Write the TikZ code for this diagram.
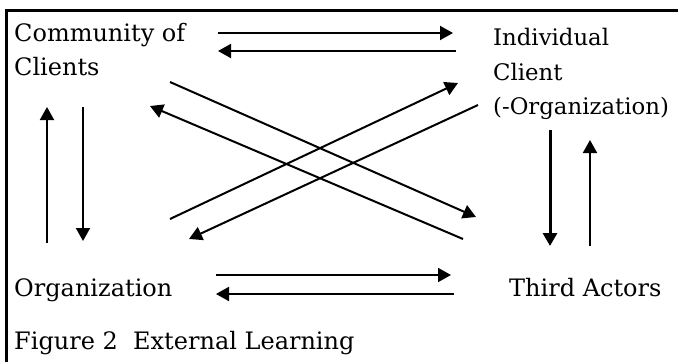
\documentclass[tikz,border=0pt]{standalone}
\usepackage{fontspec}
\setmainfont{DejaVu Serif}
\usetikzlibrary{arrows.meta,calc}

\tikzset{
  label/.style={inner sep=0pt, anchor=base west, align=left, font={\fontsize{24}{34.5}\selectfont}},
  flow/.style={-{Triangle[length=13pt,width=14pt]}, line width=2pt},
}

\begin{document}
\begin{tikzpicture}[x=1pt, y=-1pt]
\useasboundingbox (0,0) rectangle (678,362);
% frame (only top and left edge visible)
\draw[line width=3pt] (6.5,362) -- (6.5,10.5) -- (678,10.5);

% base anchor = baseline of the last line
\node[label] (comm) at (14,75.5) {Community of\\Clients};
\node[label, font={\fontsize{22.8}{34.5}\selectfont}] (indiv) at (493,114.5) {Individual\\Client\\(-Organization)};
\node[label] (org) at (14,296) {Organization};
\node[label] (third) at (509,296) {Third Actors};
\node[label] (caption) at (14,349) {Figure 2\ \ External Learning};

% horizontal pairs
\draw[flow] ($(comm.base west)+(204,-42.5)$) -- ($(indiv.base west)+(-40,-81.5)$);
\draw[flow] ($(indiv.base west)+(-37,-63.5)$) -- ($(comm.base west)+(204,-24.5)$);
\draw[flow] ($(org.base west)+(202,-21)$) -- ($(third.base west)+(-58,-21)$);
\draw[flow] ($(third.base west)+(-55,-2)$) -- ($(org.base west)+(202,-2)$);

% vertical pairs
\draw[flow] ($(org.base west)+(33,-53)$) -- ($(comm.base west)+(33,31.5)$);
\draw[flow] ($(comm.base west)+(69,31.5)$) -- ($(org.base west)+(69,-55)$);
\draw[flow, line width=3pt] ($(indiv.base west)+(57,15.5)$) -- ($(third.base west)+(41,-50)$);
\draw[flow] ($(third.base west)+(81,-50)$) -- ($(indiv.base west)+(97,25.5)$);

% crossing diagonals
\draw[flow] ($(comm.base west)+(156,6.5)$) -- ($(third.base west)+(-33,-79)$);
\draw[flow] ($(third.base west)+(-46,-57)$) -- ($(comm.base west)+(136,30.5)$);
\draw[flow] ($(org.base west)+(156,-77)$) -- ($(indiv.base west)+(-35,-31.5)$);
\draw[flow] ($(indiv.base west)+(-15,-9.5)$) -- ($(org.base west)+(175,-57)$);
\end{tikzpicture}
\end{document}
